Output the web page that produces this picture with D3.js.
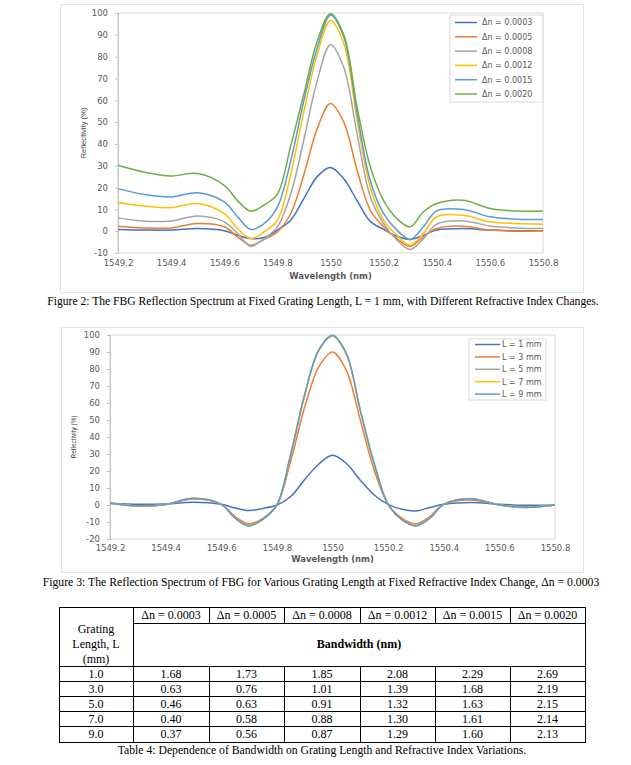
<!DOCTYPE html>
<html lang="en">
<head>
  <meta charset="UTF-8">
  <title>FBG Reflection Spectrum</title>
  <script src="https://d3js.org/d3.v7.min.js"></script>
  <style>
    body { margin: 0; padding: 0; background: #fff; overflow: hidden; }
  </style>
</head>
<body>
  <svg id="page"></svg>

  <script>
    const wavelengths = [1549.2, 1549.3, 1549.4, 1549.5, 1549.6, 1549.65, 1549.7, 1549.75, 1549.8,
      1549.85, 1549.9, 1549.95, 1550, 1550.05, 1550.1, 1550.15, 1550.2, 1550.25, 1550.3, 1550.35,
      1550.4, 1550.5, 1550.6, 1550.7, 1550.8];
    const xTicks = [1549.2, 1549.4, 1549.6, 1549.8, 1550, 1550.2, 1550.4, 1550.6, 1550.8];

    // Figure 2: fixed L = 1 mm, different index changes
    const dnLabels = ["Δn = 0.0003", "Δn = 0.0005", "Δn = 0.0008", "Δn = 0.0012", "Δn = 0.0015", "Δn = 0.0020"];
    const dn0003 = [0.8, 0.5, 0.5, 1.2, 0.2, -1.8, -3.4, -2.9, 0.5, 5, 15, 25, 29.2, 24, 14, 4.5, 0.8, -2.3, -3.8, -1.8, 0.5, 1.2, 0.5, 0.2, 0.2];
    const dn0005 = [2.3, 1.5, 1.5, 3.5, 2, -2.6, -6.4, -3.8, -0.3, 8, 26, 47, 58.5, 50, 28, 9.6, 2, -3.4, -6.9, -2.6, 1.2, 2.3, 0.5, 0, 0.2];
    const dn0008 = [6.1, 4.6, 4.7, 7, 4.3, -1, -6.9, -3.4, 2, 17, 42, 69, 85.5, 75, 44.7, 15.7, 3.5, -4, -8.4, -3.4, 3.2, 4.7, 2.4, 1.5, 1.2];
    const dn0012 = [13.1, 11.5, 10.8, 12.7, 8.1, 1.2, -3.4, -0.3, 5, 26, 55, 81, 96.6, 86, 51, 20, 5, -1.8, -6.4, -1, 6.6, 7.3, 4.3, 3.5, 3.2];
    const dn0015 = [19.5, 16.8, 15.7, 17.6, 13.4, 6.6, 0.8, 3.5, 11, 32, 60, 84, 99, 89, 54, 23, 8, 0.5, -3.8, 2, 9.3, 9.9, 6.6, 5.5, 5.3];
    const dn0020 = [30.2, 27, 25.3, 26.4, 21, 14, 9.2, 12, 17, 39, 63, 87, 99.7, 90, 57, 29.5, 14, 5.8, 2, 8.9, 12.7, 14.2, 10.4, 9.2, 9.3];
    const fig2Ticks = [-10, 0, 10, 20, 30, 40, 50, 60, 70, 80, 90, 100];

    // Figure 3: fixed Δn = 0.0003, different grating lengths
    const lenLabels = ["L = 1 mm", "L = 3 mm", "L = 5 mm", "L = 7 mm", "L = 9 mm"];
    const len1 = [1, 0.4, 0.6, 1.6, 0.4, -1.8, -3.3, -2, 0, 5, 15, 24, 29.3, 24.4, 14.6, 5.9, 0.4, -2.5, -3.5, -1.5, 0.4, 1.4, 0.4, -0.2, 0];
    const len3 = [1, -0.4, 0.4, 3.5, 0.4, -6.8, -11.1, -7.8, 0, 26, 57.6, 81, 90, 79, 50, 20.5, 0.4, -7.8, -11.1, -6.8, 0.4, 3, 0, -1, 0];
    const len5 = [1, -0.6, 0.3, 3.8, 0.4, -7.6, -12, -8.2, 0, 29.5, 64.5, 90.5, 99.2, 88.5, 55.5, 24, 0.4, -8.6, -12, -7.6, 0.4, 3.6, 0, -1.3, 0];
    const len7 = [1, -0.6, 0.3, 3.9, 0.4, -7.8, -12.2, -8.4, 0, 30, 65, 91, 99.6, 89, 55.7, 24.4, 0.4, -8.8, -12.2, -7.8, 0.4, 3.7, 0, -1.4, 0];
    const len9 = [1, -0.6, 0.3, 3.9, 0.4, -7.8, -12.3, -8.4, 0, 30, 65, 91, 99.8, 89, 55.7, 24.4, 0.4, -8.8, -12.3, -7.8, 0.4, 3.7, 0, -1.4, 0];
    const fig3Ticks = [-20, -10, 0, 10, 20, 30, 40, 50, 60, 70, 80, 90, 100];

    // Table 4
    const gratingLengths = ["1.0", "3.0", "5.0", "7.0", "9.0"];
    const bw0003 = [1.68, 0.63, 0.46, 0.40, 0.37];
    const bw0005 = [1.73, 0.76, 0.63, 0.58, 0.56];
    const bw0008 = [1.85, 1.01, 0.91, 0.88, 0.87];
    const bw0012 = [2.08, 1.39, 1.32, 1.30, 1.29];
    const bw0015 = [2.29, 1.68, 1.63, 1.61, 1.60];
    const bw0020 = [2.69, 2.19, 2.15, 2.14, 2.13];

    const palette = ["#4472C4", "#ED7D31", "#A5A5A5", "#FFC000", "#5B9BD5", "#70AD47"];
    const W = 631, H = 765;
    const tickFont = "'DejaVu Sans', sans-serif";
    const serif = "'Liberation Serif', 'Times New Roman', serif";

    const svg = d3.select("#page").attr("width", W).attr("height", H);

    function drawChart(o) {
      const x = d3.scaleLinear().domain([1549.2, 1550.8]).range([o.left, o.right]);
      const y = d3.scaleLinear().domain([o.yTicks[0], 100]).range([o.bottom, o.top]);

      // chart frame + plot area box
      svg.append("rect")
        .attr("x", o.frame[0] + 0.5).attr("y", o.frame[1] + 0.5)
        .attr("width", o.frame[2] - o.frame[0]).attr("height", o.frame[3] - o.frame[1])
        .attr("fill", "#fff").attr("stroke", "#e3e3e3");
      svg.append("rect")
        .attr("x", o.left).attr("y", o.top)
        .attr("width", o.right - o.left).attr("height", o.bottom - o.top)
        .attr("fill", "none").attr("stroke", "#d9d9d9");

      const gy = svg.append("g").attr("transform", `translate(${o.left},0)`)
        .call(d3.axisLeft(y).tickValues(o.yTicks).tickSize(3).tickFormat(d => String(d)));
      gy.select(".domain").attr("stroke", "#bfbfbf");
      gy.selectAll(".tick line").attr("stroke", "#bfbfbf");
      gy.selectAll(".tick text").attr("x", -10).attr("fill", "#595959")
        .attr("font-family", tickFont).attr("font-size", "8.5px");

      const gx = svg.append("g").attr("transform", `translate(0,${o.bottom})`)
        .call(d3.axisBottom(x).tickValues(xTicks).tickSize(0).tickFormat(d => String(+d.toFixed(1))));
      gx.select(".domain").remove();
      gx.selectAll(".tick text").attr("y", o.xLabelGap).attr("dy", "0.35em").attr("fill", "#595959")
        .attr("font-family", tickFont).attr("font-size", "8.5px");

      // axis titles
      svg.append("text")
        .attr("x", (o.left + o.right) / 2).attr("y", o.xTitleY).attr("dy", "0.35em")
        .attr("text-anchor", "middle").attr("font-family", tickFont).attr("font-size", "8.5px")
        .attr("font-weight", "bold").attr("fill", "#595959")
        .text("Wavelength (nm)");
      svg.append("text")
        .attr("transform", `translate(${o.yTitle[0]},${o.yTitle[1]}) rotate(-90)`)
        .attr("dy", "0.35em").attr("text-anchor", "middle")
        .attr("font-family", "'Liberation Sans', Arial, sans-serif").attr("font-size", "8px")
        .attr("textLength", o.yTitle[2]).attr("lengthAdjust", "spacingAndGlyphs")
        .attr("fill", "#404040")
        .text("Reflectivity (%)");

      const line = d3.line()
        .x((d, i) => x(wavelengths[i]))
        .y(d => y(d))
        .curve(d3.curveCatmullRom.alpha(0.5));

      o.series.forEach((s, i) => {
        svg.append("path")
          .attr("d", line(s))
          .attr("fill", "none")
          .attr("stroke", palette[i])
          .attr("stroke-width", 1.5);
      });

      // legend
      const lg = o.legend;
      svg.append("rect")
        .attr("x", lg.x).attr("y", lg.y).attr("width", lg.w).attr("height", lg.h)
        .attr("fill", "#fff").attr("stroke", "#d9d9d9");
      o.labels.forEach((lab, i) => {
        const ly = lg.firstY + i * lg.step;
        svg.append("line")
          .attr("x1", lg.lineX).attr("x2", lg.lineX + lg.lineW)
          .attr("y1", ly).attr("y2", ly)
          .attr("stroke", palette[i]).attr("stroke-width", 1.5);
        svg.append("text")
          .attr("x", lg.lineX + lg.lineW + lg.gap).attr("y", ly).attr("dy", "0.35em")
          .attr("font-family", tickFont).attr("font-size", "8px").attr("fill", "#595959")
          .text(lab);
      });
    }

    function caption(txt, cx, cy, width) {
      const t = svg.append("text")
        .attr("x", cx).attr("y", cy).attr("dy", "0.35em")
        .attr("text-anchor", "middle").attr("font-family", serif).attr("font-size", "12px")
        .attr("fill", "#000").text(txt);
      const len = t.node().getComputedTextLength();
      t.attr("font-size", (12 * width / len).toFixed(2) + "px");
    }

    drawChart({
      frame: [60, 4, 583, 292],
      left: 118, right: 543, top: 13, bottom: 253,
      yTicks: fig2Ticks,
      xLabelGap: 10, xTitleY: 276,
      yTitle: [83, 133, 51],
      series: [dn0003, dn0005, dn0008, dn0012, dn0015, dn0020],
      labels: dnLabels,
      legend: { x: 450, y: 15, w: 93, h: 87, firstY: 22.5, step: 14.3, lineX: 455, lineW: 22, gap: 5 }
    });
    caption("Figure 2: The FBG Reflection Spectrum at Fixed Grating Length, L = 1 mm, with Different Refractive Index Changes.", 323, 301, 552);

    drawChart({
      frame: [61, 327, 583, 572],
      left: 110, right: 555, top: 335, bottom: 539,
      yTicks: fig3Ticks,
      xLabelGap: 9, xTitleY: 559,
      yTitle: [73, 437, 43],
      series: [len1, len3, len5, len7, len9],
      labels: lenLabels,
      legend: { x: 469, y: 339, w: 77, h: 61, firstY: 344.5, step: 12.4, lineX: 475, lineW: 25, gap: 2 }
    });
    caption("Figure 3: The Reflection Spectrum of FBG for Various Grating Length at Fixed Refractive Index Change, Δn = 0.0003", 321, 582, 557);

    // ---- Table 4 ----
    const colX = [59, 133, 209, 284, 360, 435, 510, 585];
    const rowY = [607, 623, 666, 681, 696, 711, 726, 742];
    const tbl = svg.append("g").attr("stroke", "#000").attr("stroke-width", 1).attr("shape-rendering", "crispEdges");
    tbl.append("rect").attr("x", colX[0]).attr("y", rowY[0])
      .attr("width", colX[7] - colX[0]).attr("height", rowY[7] - rowY[0]).attr("fill", "none");
    tbl.append("line").attr("x1", colX[1]).attr("x2", colX[7]).attr("y1", rowY[1]).attr("y2", rowY[1]);
    for (let r = 2; r < 7; r++) {
      tbl.append("line").attr("x1", colX[0]).attr("x2", colX[7]).attr("y1", rowY[r]).attr("y2", rowY[r]);
    }
    tbl.append("line").attr("x1", colX[1]).attr("x2", colX[1]).attr("y1", rowY[0]).attr("y2", rowY[7]);
    for (let c = 2; c < 7; c++) {
      tbl.append("line").attr("x1", colX[c]).attr("x2", colX[c]).attr("y1", rowY[0]).attr("y2", rowY[1]);
      tbl.append("line").attr("x1", colX[c]).attr("x2", colX[c]).attr("y1", rowY[2]).attr("y2", rowY[7]);
    }

    function cell(txt, cx, cy, bold) {
      svg.append("text").attr("x", cx).attr("y", cy).attr("dy", "0.35em")
        .attr("text-anchor", "middle").attr("font-family", serif).attr("font-size", "12px")
        .attr("font-weight", bold ? "bold" : "normal").attr("fill", "#000").text(txt);
    }
    dnLabels.forEach((lab, i) => cell(lab, (colX[i + 1] + colX[i + 2]) / 2, (rowY[0] + rowY[1]) / 2));
    ["Grating", "Length, L", "(mm)"].forEach((t, i) => cell(t, (colX[0] + colX[1]) / 2, 628.5 + i * 15));
    cell("Bandwidth (nm)", (colX[1] + colX[7]) / 2, 644, true);
    const bwCols = [bw0003, bw0005, bw0008, bw0012, bw0015, bw0020];
    gratingLengths.forEach((g, r) => {
      const cy = (rowY[r + 2] + rowY[r + 3]) / 2;
      cell(g, (colX[0] + colX[1]) / 2, cy);
      bwCols.forEach((col, c) => cell(col[r].toFixed(2), (colX[c + 1] + colX[c + 2]) / 2, cy));
    });
    caption("Table 4: Dependence of Bandwidth on Grating Length and Refractive Index Variations.", 322, 750, 409);
  </script>
</body>
</html>
